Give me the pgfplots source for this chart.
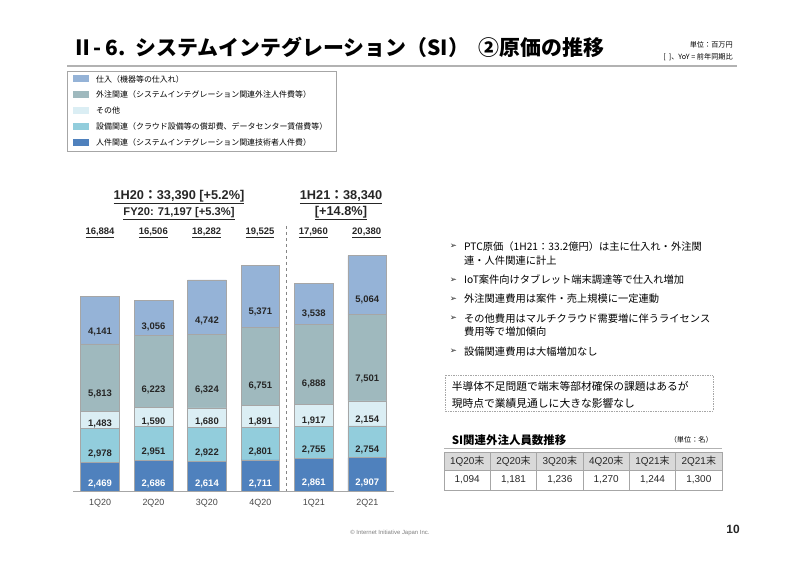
\documentclass[border=0pt]{standalone}
\usepackage{pgfplots}
\pgfplotsset{compat=1.18}
\usepackage{pgfplotstable}
\usepackage{fontspec}
\setmainfont{Liberation Sans}
\newfontfamily\cjk{Noto Sans CJK JP}
\newfontfamily\dejavu{DejaVu Sans}

\definecolor{shiire}{HTML}{95B3D7}
\definecolor{gaichu}{HTML}{9FB9BE}
\definecolor{sonota}{HTML}{DBEEF4}
\definecolor{setsubi}{HTML}{92CDDC}
\definecolor{jinken}{HTML}{4F81BD}
\definecolor{edge}{HTML}{A6A6A6}
\definecolor{txt}{HTML}{262626}
\definecolor{hdr}{HTML}{D9D9D9}

% cost by quarter (million yen), bottom segment first
\pgfplotstableread{
x jinken setsubi sonota gaichu shiire
0 2469 2978 1483 5813 4141
1 2686 2951 1590 6223 3056
2 2614 2922 1680 6324 4742
3 2711 2801 1891 6751 5371
4 2861 2755 1917 6888 3538
5 2907 2754 2154 7501 5064
}\costs

\newcommand\fs[1]{\fontsize{#1}{#1}\selectfont}

\pgfplotsset{
  seg/.style 2 args={
    fill=#2, draw=edge, line width=0.6pt,
    nodes near coords, point meta=explicit,
    visualization depends on={\thisrow{#1}\as\rawy},
  },
}

\begin{document}
\begin{tikzpicture}[x=1bp,y=1bp]
\useasboundingbox (0,0) rectangle (800,566);

% header
\node[anchor=west, inner sep=0] at (72,519)
  {\cjk\bfseries\fs{21}Ⅱ- 6.\ \ システムインテグレーション（SI）\ \ ②原価の推移};
\node[anchor=east, inner sep=0] at (733,521) {\cjk\fs{7.2}単位：百万円};
\node[anchor=east, inner sep=0] at (733,509) {\cjk\fs{7.2}[\ \ ]、YoY = 前年同期比};
\draw[gray!60, line width=1.5pt] (67,500) -- (737,500);

% legend box
\draw[edge, line width=0.6pt] (67,495) rectangle (336,415);
\foreach \c/\t [count=\i from 0] in {
  shiire/仕入（機器等の仕入れ）,
  gaichu/外注関連（システムインテグレーション関連外注人件費等）,
  sonota/その他,
  setsubi/設備関連（クラウド設備等の償却費、データセンター賃借費等）,
  jinken/人件関連（システムインテグレーション関連技術者人件費）}{
  \fill[\c] (73,{487-15.8*\i-3.5}) rectangle (89,{487-15.8*\i+3.5});
  \node[anchor=west, inner sep=0] at (96,{487-15.8*\i}) {\cjk\fs{8}\t};
}

% bar chart
\begin{axis}[
  at={(73.3bp,74.7bp)}, anchor=south west,
  scale only axis, width=320.7bp, height=242.9bp,
  xmin=-0.5, xmax=5.5, ymin=0, ymax=21000,
  ybar stacked, bar width=38.7bp,
  axis x line*=bottom, axis y line=none,
  x axis line style={draw=edge, line width=1pt, -},
  xtick={0,...,5},
  xticklabels={1Q20,2Q20,3Q20,4Q20,1Q21,2Q21},
  major tick length=0,
  xticklabel style={font=\fs{9}, text=txt!85, yshift=-4.5bp},
  /pgf/number format/1000 sep={,},
  /pgf/number format/assume math mode=true,
  every node near coord/.style={anchor=center,
    font=\bfseries\fs{9.5}, text=txt,
    yshift={-0.00289175bp*\rawy}},
  clip=false,
]
\addplot[seg={jinken}{jinken}, every node near coord/.append style={text=white}]
  table[x=x, y=jinken, meta=jinken] {\costs};
\addplot[seg={setsubi}{setsubi}] table[x=x, y=setsubi, meta=setsubi] {\costs};
\addplot[seg={sonota}{sonota}] table[x=x, y=sonota, meta=sonota] {\costs};
\addplot[seg={gaichu}{gaichu}] table[x=x, y=gaichu, meta=gaichu] {\costs};
\addplot[seg={shiire}{shiire}] table[x=x, y=shiire, meta=shiire] {\costs};
\end{axis}

% half-year separator
\draw[edge!80!black, dashed, line width=0.6pt] (286.7,340) -- (286.7,75);

% totals
\foreach \x/\v in {100/16{,}884, 153.3/16{,}506, 206.7/18{,}282, 260/19{,}525, 313.3/17{,}960, 366.7/20{,}380}{
  \node[inner sep=0, text=txt] at (\x,333) {\bfseries\fs{9.5}\underline{\v}};
}
\node[inner sep=0, text=txt] at (179,368.7) {\bfseries\fs{12.8}\underline{1H20{\cjk：}33,390 [+5.2\%]}};
\node[inner sep=0, text=txt] at (179,352.7) {\bfseries\fs{11.2}\underline{FY20: 71,197 [+5.3\%]}};
\node[inner sep=0, text=txt] at (341,368.7) {\bfseries\fs{12.8}\underline{1H21{\cjk：}38,340}};
\node[inner sep=0, text=txt] at (341,352.7) {\bfseries\fs{12.8}\underline{[+14.8\%]}};

% comments
\foreach \y/\t/\b in {
  319.3/PTC原価（1H21：33.2億円）は主に仕入れ・外注関/1,
  305.3/連・人件関連に計上/0,
  286/IoT案件向けタブレット端末調達等で仕入れ増加/1,
  267/外注関連費用は案件・売上規模に一定連動/1,
  247.7/その他費用はマルチクラウド需要増に伴うライセンス/1,
  234.3/費用等で増加傾向/0,
  214.3/設備関連費用は大幅増加なし/1}{
  \ifnum\b=1 \node[inner sep=0, text=txt] at (453.5,\y) {\dejavu\fs{8.5}➢}; \fi
  \node[anchor=west, inner sep=0] at (464,\y) {\cjk\fs{10.3}\t};
}
\draw[edge, densely dotted, line width=0.7pt] (445,191) rectangle (713,155);
\node[anchor=west, inner sep=0] at (451.7,180) {\cjk\fs{10.8}半導体不足問題で端末等部材確保の課題はあるが};
\node[anchor=west, inner sep=0] at (451.7,162.7) {\cjk\fs{10.8}現時点で業績見通しに大きな影響なし};

% outsourced staff table
\node[anchor=west, inner sep=0] at (451.7,126) {\cjk\bfseries\fs{11.5}SI関連外注人員数推移};
\node[anchor=east, inner sep=0] at (713,126) {\cjk\fs{7.2}（単位：名）};
\draw[gray!60, line width=1.5pt] (444,117.7) -- (722,117.7);
\fill[hdr] (444,113.3) rectangle (722,96);
\draw[edge, line width=0.5pt] (444,113.3) rectangle (722,76);
\draw[edge, line width=0.5pt] (444,96) -- (722,96);
\foreach \i in {1,...,5}{
  \draw[edge, line width=0.5pt] ({444+46.33*\i},113.3) -- ({444+46.33*\i},76);
}
\foreach \h/\v [count=\i from 0] in {1Q20/1{,}094, 2Q20/1{,}181, 3Q20/1{,}236, 4Q20/1{,}270, 1Q21/1{,}244, 2Q21/1{,}300}{
  \node[inner sep=0, text=txt] at ({444+46.33*\i+23.17},104.6) {\fs{10}\h{\cjk 末}};
  \node[inner sep=0, text=txt] at ({444+46.33*\i+23.17},86) {\fs{10}\v};
}

% footer
\node[inner sep=0, text=gray] at (390,33) {\fs{6}© Internet Initiative Japan Inc.};
\node[inner sep=0, text=txt] at (733,36.7) {\bfseries\fs{12}10};
\end{tikzpicture}
\end{document}
